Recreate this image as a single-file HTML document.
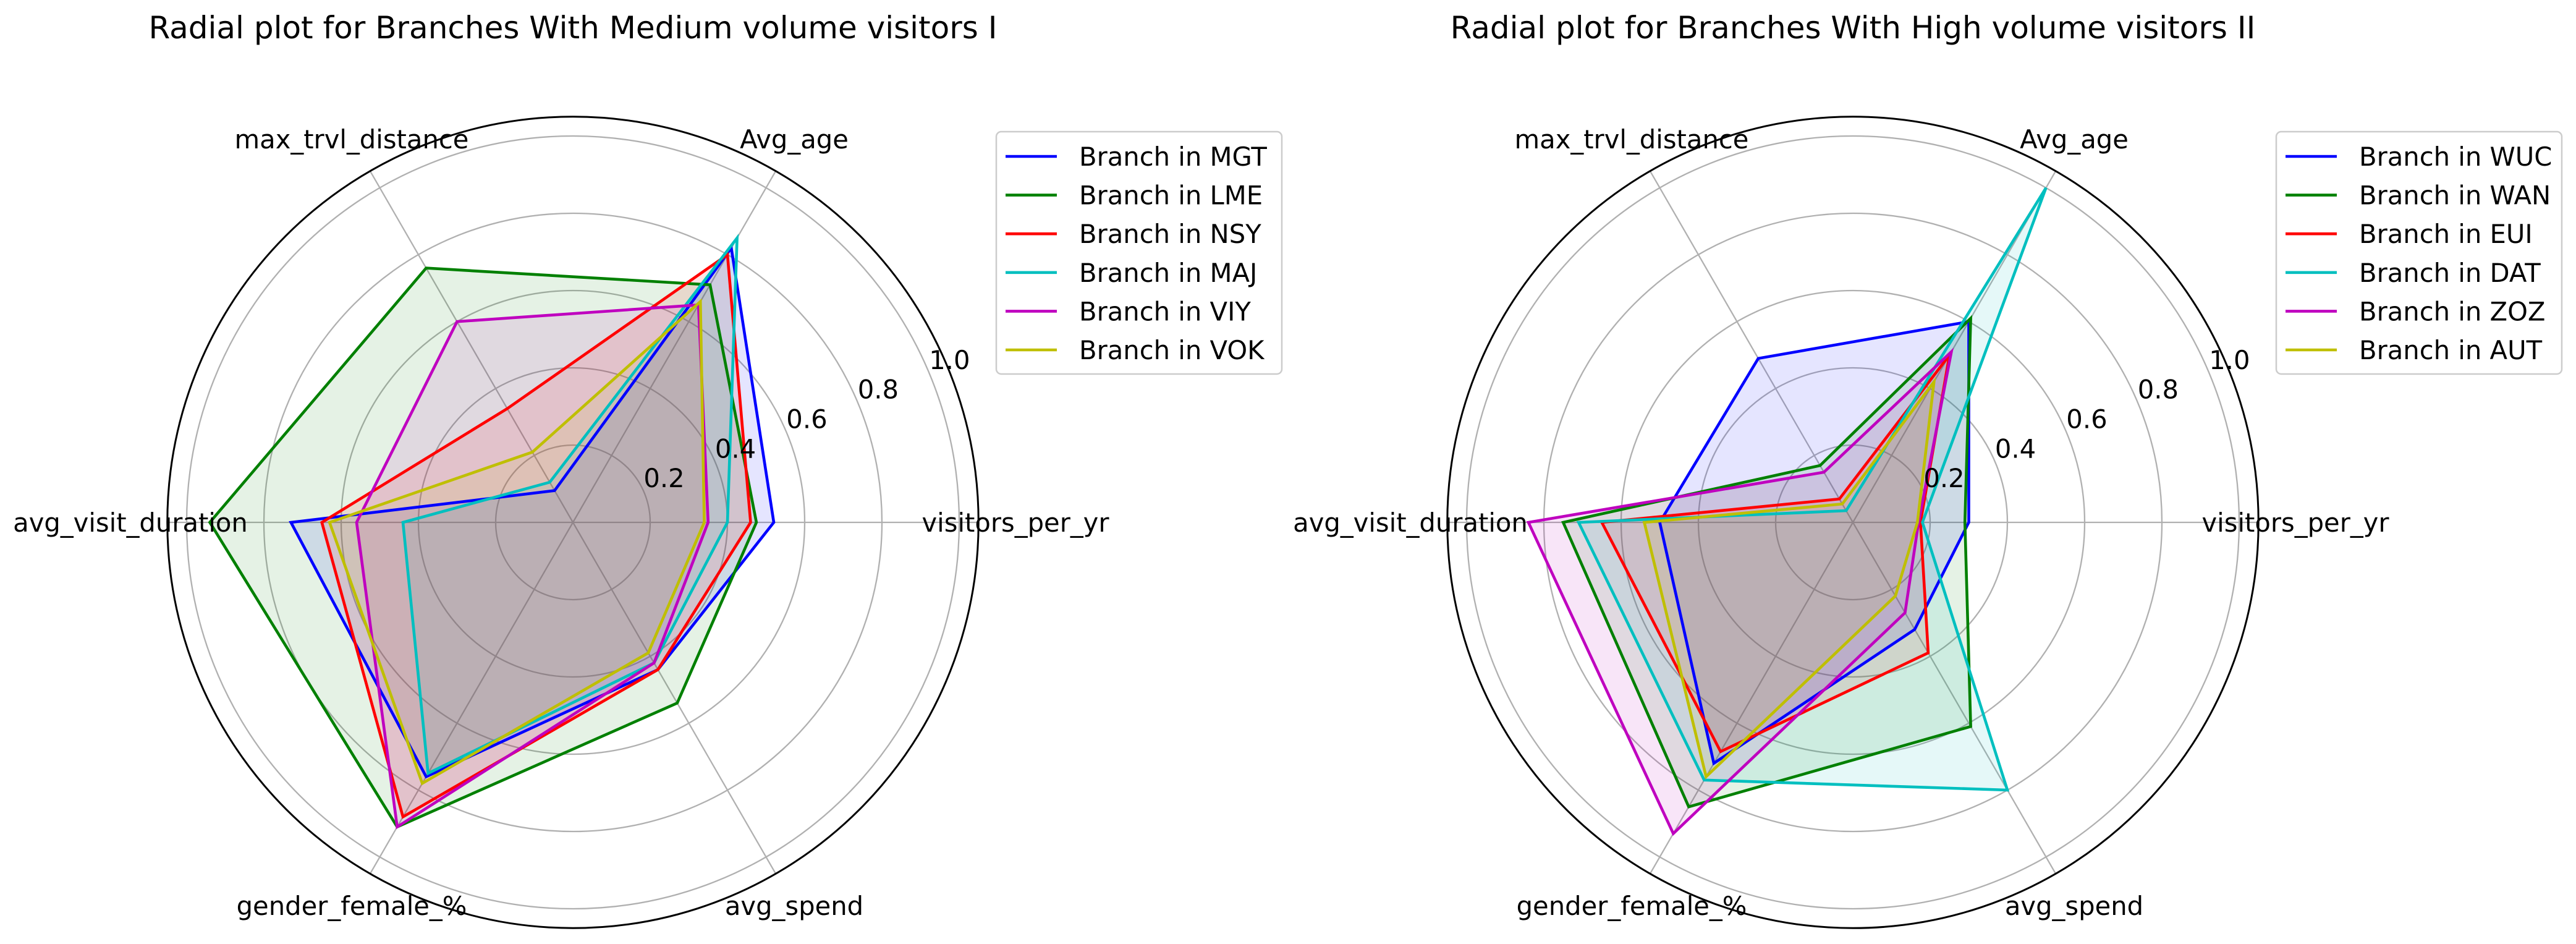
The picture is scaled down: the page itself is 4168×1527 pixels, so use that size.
<!DOCTYPE html>
<html><head><meta charset="utf-8"><style>
html,body{margin:0;padding:0;background:#fff}
svg{display:block;font-family:"DejaVu Sans","Liberation Sans",sans-serif}
</style></head><body>
<svg id="fig" width="4168" height="1527" viewBox="0 0 4168 1527" xmlns="http://www.w3.org/2000/svg"></svg>
<script>
const axisLabels = ["visitors_per_yr","Avg_age","max_trvl_distance","avg_visit_duration","gender_female_%","avg_spend"];
const rTicks = [0.2,0.4,0.6,0.8,1.0];
const tickLabels = ["0.2","0.4","0.6","0.8","1.0"];
const colors = ["#0000ff","#008000","#ff0000","#00bfbf","#bf00bf","#bfbf00"];
const namesA = ["Branch in MGT","Branch in LME","Branch in NSY","Branch in MAJ","Branch in VIY","Branch in VOK"];
const mgt = [0.52,0.82,0.095,0.73,0.76,0.44];
const lme = [0.475,0.71,0.76,0.94,0.91,0.54];
const nsy = [0.46,0.80,0.34,0.65,0.88,0.44];
const maj = [0.40,0.85,0.12,0.44,0.75,0.42];
const viy = [0.35,0.65,0.60,0.56,0.91,0.42];
const vok = [0.34,0.66,0.21,0.63,0.78,0.39];
const namesB = ["Branch in WUC","Branch in WAN","Branch in EUI","Branch in DAT","Branch in ZOZ","Branch in AUT"];
const wuc = [0.30,0.60,0.49,0.50,0.72,0.32];
const wan = [0.29,0.61,0.17,0.75,0.85,0.61];
const eui = [0.175,0.50,0.07,0.65,0.685,0.39];
const dat = [0.18,1.00,0.035,0.71,0.77,0.80];
const zoz = [0.17,0.51,0.15,0.84,0.93,0.27];
const aut = [0.167,0.42,0.055,0.54,0.76,0.22];

const NS="http://www.w3.org/2000/svg";
const svg=document.getElementById('fig');
function mk(tag,attrs,parent){const e=document.createElementNS(NS,tag);for(const k in attrs)e.setAttribute(k,attrs[k]);(parent||svg).appendChild(e);return e;}
const R1=625, RMAX=1.05;
function rad(v){return v*R1;}
function pt(cx,cy,v,i){const a=i*Math.PI/3;return [cx+rad(v)*Math.cos(a),cy-rad(v)*Math.sin(a)];}

function chart(cx,cy,title,names,series,lx,slug){
  const g=mk('g',{});
  
  
  const t=mk('text',{x:cx,y:62,'text-anchor':'middle','font-size':50,fill:'#000'},g);
  t.textContent=title;
  
  
  rTicks.forEach((r,k)=>{
    const c=mk('circle',{cx:cx,cy:cy,r:rad(r),fill:'none',stroke:'#b0b0b0','stroke-width':2.3},g);
    
    
  });
  axisLabels.forEach((lab,i)=>{
    const p=pt(cx,cy,RMAX,i);
    const l=mk('line',{x1:cx,y1:cy,x2:p[0],y2:p[1],stroke:'#b0b0b0','stroke-width':2.3},g);
    
    
  });
  series.forEach((s,j)=>{
    const pts=s.map((v,i)=>pt(cx,cy,v,i).join(',')).join(' ');
    const f=mk('polygon',{points:pts,fill:colors[j],'fill-opacity':0.1,stroke:'none'},g);
    
    
  });
  series.forEach((s,j)=>{
    const pts=s.map((v,i)=>pt(cx,cy,v,i).join(',')).join(' ');
    const p=mk('polygon',{points:pts,fill:'none',stroke:colors[j],'stroke-width':4.6,'stroke-linejoin':'miter'},g);
    
    
  });
  const o=mk('circle',{cx:cx,cy:cy,r:rad(RMAX),fill:'none',stroke:'#000','stroke-width':3},g);
  
  
  rTicks.forEach((r,k)=>{
    const a=22.5*Math.PI/180;
    const x=cx+rad(r)*Math.cos(a)+32, y=cy-rad(r)*Math.sin(a)-24;
    const tt=mk('text',{x:x,y:y+15,'text-anchor':'middle','font-size':41.7,fill:'#000'},g);
    tt.textContent=tickLabels[k];
    
    
  });
  axisLabels.forEach((lab,i)=>{
    const p=pt(cx,cy,716/R1,i);
    const tt=mk('text',{x:p[0],y:p[1]+15,'text-anchor':'middle','font-size':41.7,fill:'#000'},g);
    tt.textContent=lab;
    
    
  });
  const lg=mk('g',{},g);
  
  
  const box=mk('rect',{x:lx,y:213,width:462,height:392,rx:8,fill:'#fff','fill-opacity':0.8,stroke:'#cccccc','stroke-width':2.5},lg);
  
  
  names.forEach((n,j)=>{
    const y=253+j*62.6;
    const l=mk('line',{x1:lx+15,y1:y,x2:lx+98,y2:y,stroke:colors[j],'stroke-width':4.6},lg);
    
    
    const tt=mk('text',{x:lx+134,y:y+15,'font-size':41.7,fill:'#000'},lg);
    tt.textContent=n;
    
    
  });
}
chart(927,845,"Radial plot for Branches With Medium volume visitors I",namesA,[mgt,lme,nsy,maj,viy,vok],1612,'medium');
chart(2998,845,"Radial plot for Branches With High volume visitors II",namesB,[wuc,wan,eui,dat,zoz,aut],3683,'high');
</script>
</body></html>
